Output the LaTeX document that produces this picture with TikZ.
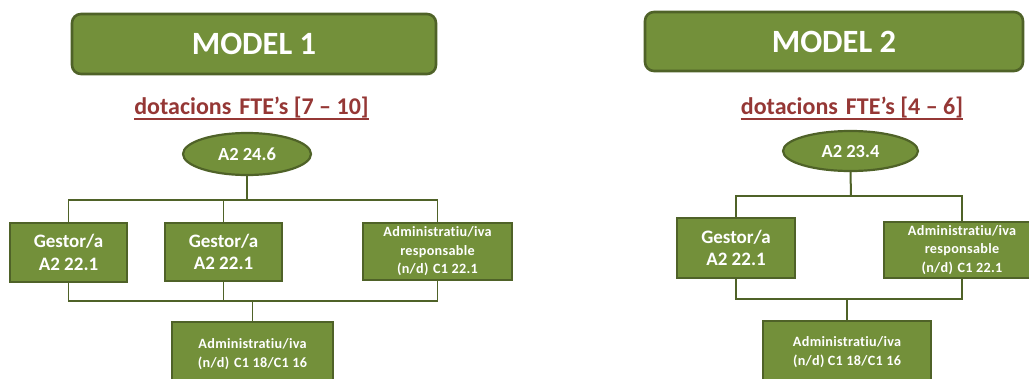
\documentclass[tikz,border=0pt]{standalone}
\usepackage{fontspec}
\setmainfont{Carlito}[Ligatures=NoCommon]
\usetikzlibrary{shapes.geometric}
\definecolor{olivefill}{HTML}{73903A}
\definecolor{olivedark}{HTML}{4F6228}
\definecolor{darkred}{HTML}{953735}
\tikzset{
  titlebox/.style={draw=olivedark, line width=2.6pt, fill=olivefill, rounded corners=9pt,
    text=white, font=\fontsize{32.5}{36}\selectfont\bfseries, inner sep=0pt},
  subtitle/.style={text=darkred, font=\fontsize{24}{26}\selectfont\bfseries, inner sep=0pt},
  oval/.style={ellipse, draw=olivedark, line width=2.2pt, fill=olivefill, text=white,
    font=\fontsize{18.5}{20}\selectfont\bfseries, inner sep=0pt},
  bigbox/.style={draw=olivedark, line width=2.8pt, fill=olivefill, text=white, align=center,
    font=\fontsize{19}{22.5}\selectfont\bfseries, inner sep=0pt},
  smallbox/.style={draw=olivedark, line width=2.8pt, fill=olivefill, text=white, align=center,
    font=\fontsize{14.2}{18.5}\selectfont\bfseries\addfontfeatures{LetterSpace=2}, inner sep=0pt},
  link/.style={draw=olivedark, line width=1.3pt},
  mainlink/.style={draw=olivedark, line width=2pt},
  uline/.style={draw=darkred, line width=1.2pt}
}
\begin{document}
\begin{tikzpicture}[x=1pt, y=-1pt]
\useasboundingbox (0,0) rectangle (1029,378);
% ---------- MODEL 1 ----------
\node[titlebox, minimum width=364pt, minimum height=60pt] (t1) at (254,44) {MODEL 1};
\node[subtitle] (s1) at (251.5,108) {dotacions\,\,FTE’s [7 – 10]};
\draw[uline] ([yshift=-4pt]s1.base west) -- ([yshift=-4pt]s1.base east);
\node[oval, minimum width=128pt, minimum height=42pt] (e1) at (247,154) {A2 24.6};
\node[bigbox, minimum width=117pt, minimum height=59pt] (g1) at (68.5,252.5) {Gestor/a\\A2 22.1};
\node[bigbox, minimum width=117pt, minimum height=58pt] (g2) at (223.5,252) {Gestor/a\\A2 22.1};
\node[smallbox, minimum width=149pt, minimum height=57pt] (a1) at (437.5,251.5) {Administratiu/iva\\responsable\\(n/d)\,\,C1 22.1};
\node[smallbox, minimum width=161pt, minimum height=64pt] (b1) at (252.5,354) {Administratiu/iva\\(n/d)\,\,C1 18/C1 16};
\coordinate (j1) at (247,200);
\coordinate (k1) at (252.5,301);
\draw[mainlink] (e1.south) -- (j1);
\draw[link] (g1.north) |- (j1) -| (a1.north);
\draw[link] (g2.north) -- (g2.north |- j1);
\draw[link] (g1.south) |- (k1) -| (a1.south);
\draw[link] (g2.south) -- (g2.south |- k1);
\draw[link] (k1) -- (b1.north);
% ---------- MODEL 2 ----------
\node[titlebox, minimum width=378pt, minimum height=59pt] (t2) at (834,41.5) {MODEL 2};
\node[subtitle] (s2) at (852,108) {dotacions\,\,FTE’s [4 – 6]};
\draw[uline] ([yshift=-4pt]s2.base west) -- ([yshift=-4pt]s2.base east);
\node[oval, minimum width=135pt, minimum height=40pt] (e2) at (850.5,151) {A2 23.4};
\node[bigbox, minimum width=118pt, minimum height=60pt] (g3) at (736,248) {Gestor/a\\A2 22.1};
\node[smallbox, minimum width=156pt, minimum height=56pt] (a2) at (962,250) {Administratiu/iva\\responsable\\(n/d)\,\,C1 22.1};
\node[smallbox, minimum width=168pt, minimum height=62pt] (b2) at (847,352) {Administratiu/iva\\(n/d) C1 18/C1 16};
\coordinate (j2) at (851,196);
\coordinate (k2) at (847,299);
\draw[mainlink] (e2.south) -- (j2);
\draw[link] (g3.north) |- (j2) -| (a2.north);
\draw[link] (g3.south) |- (k2) -| (a2.south);
\draw[link] (k2) -- (b2.north);
\end{tikzpicture}
\end{document}
